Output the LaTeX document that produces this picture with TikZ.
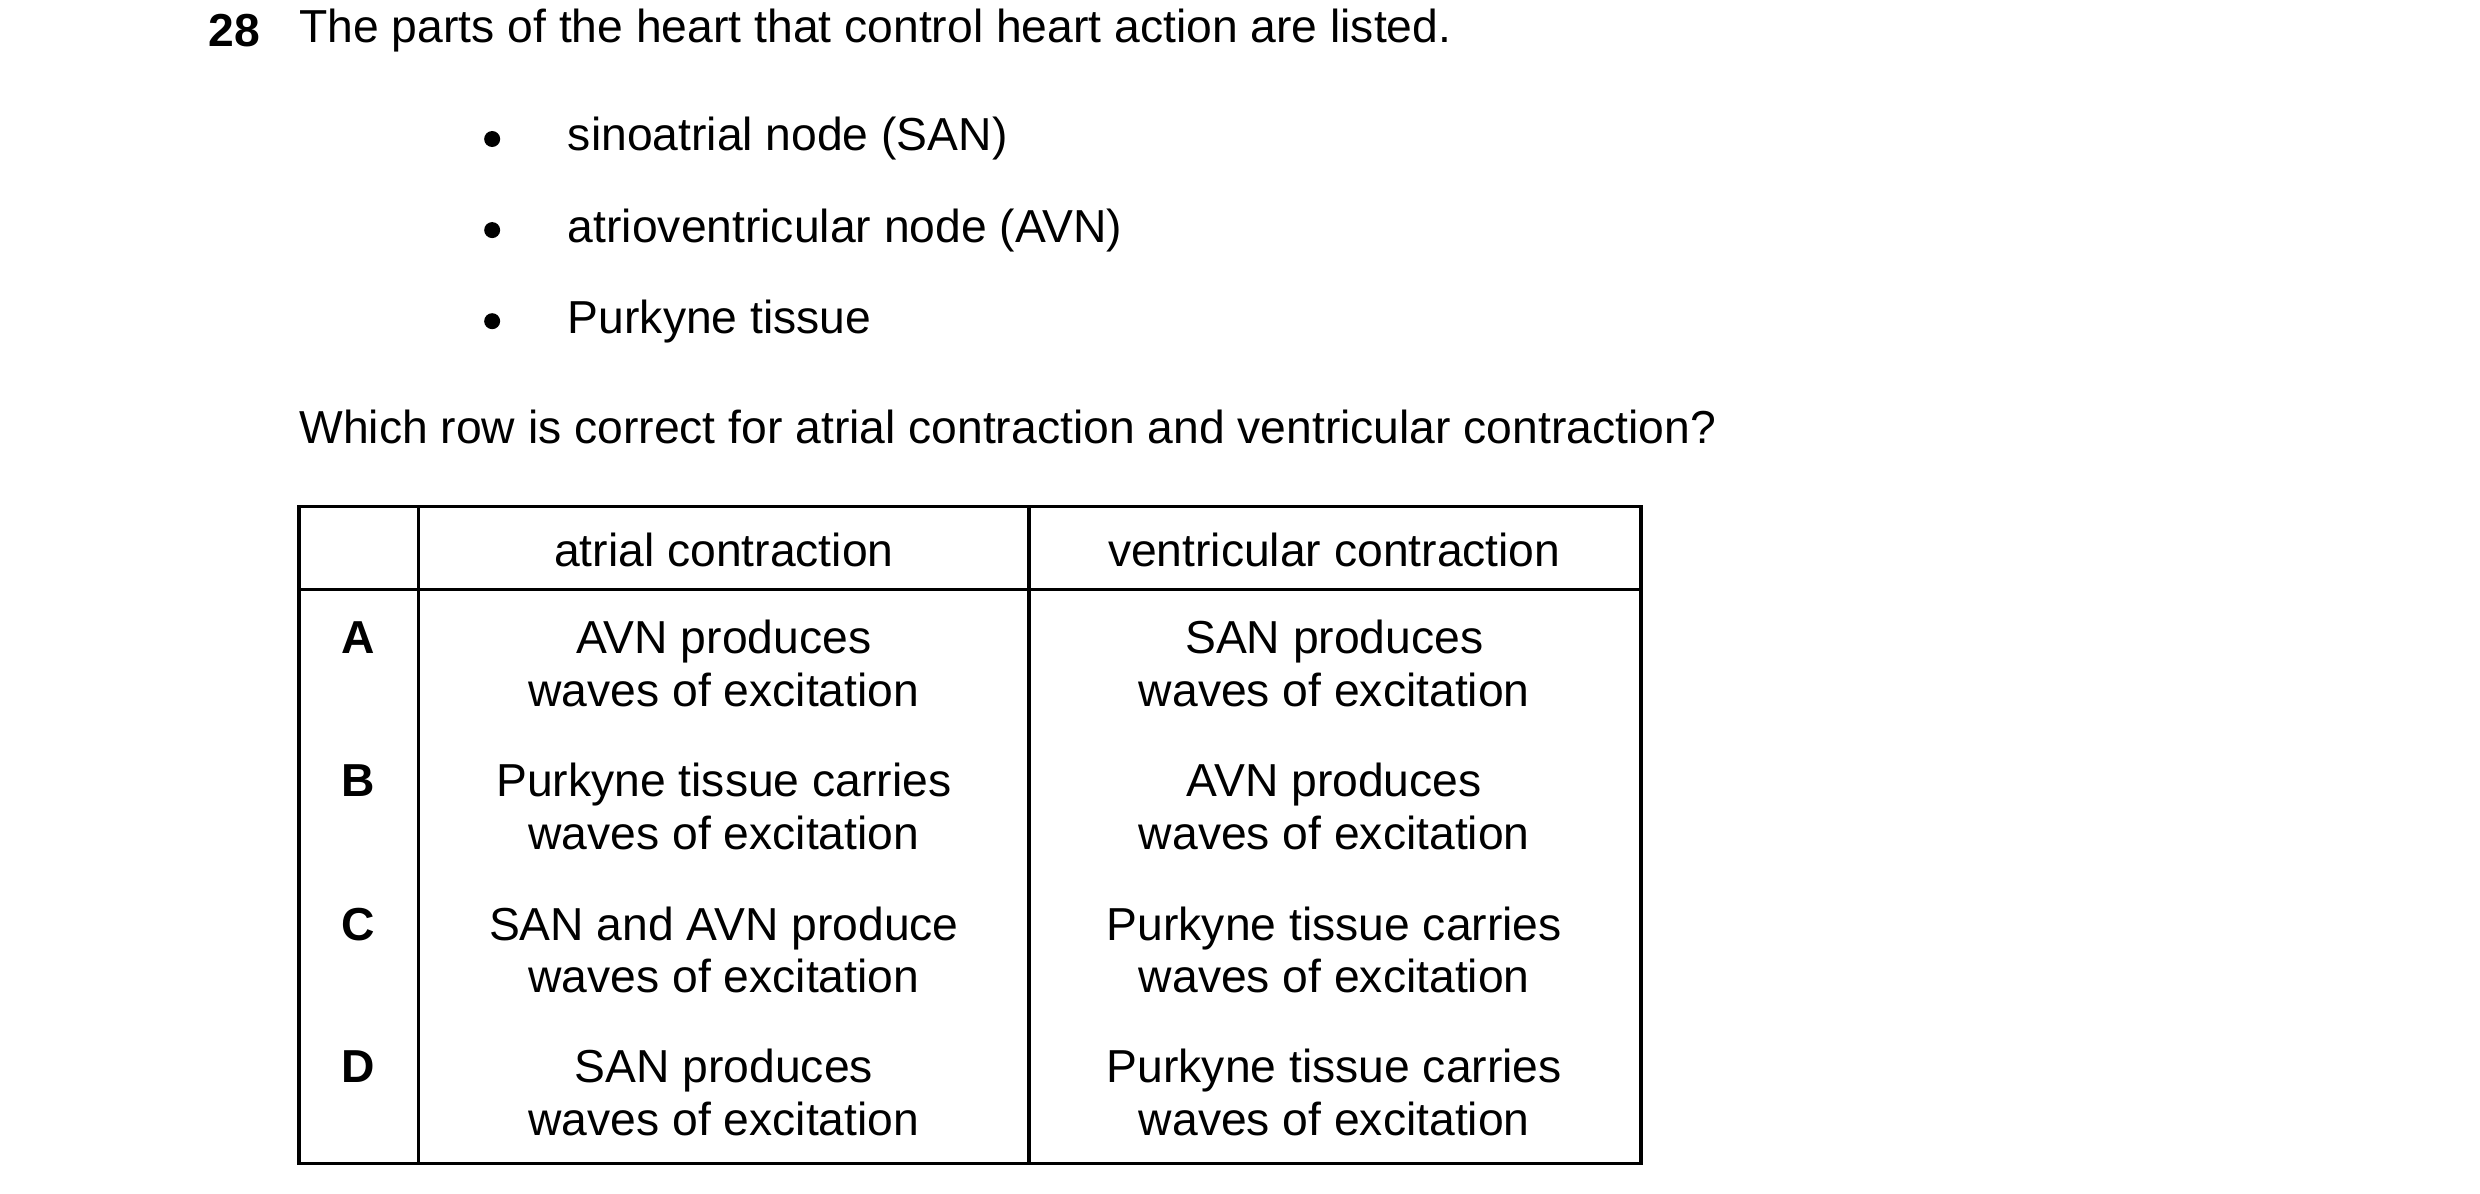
\documentclass[tikz,border=0pt]{standalone}
\usepackage{fontspec}
\setmainfont{Liberation Sans}
\begin{document}
\begin{tikzpicture}[x=0.494pt,y=-0.494pt,
  t/.style={anchor=west,inner sep=0pt,font=\fontsize{14.3pt}{16pt}\selectfont},
  c/.style={align=center,inner sep=0pt,font=\fontsize{14.3pt}{16.3pt}\selectfont},
  l/.style={inner sep=0pt,font=\fontsize{14.3pt}{16pt}\selectfont\bfseries}]
\useasboundingbox (0,0) rectangle (1552,747);
\node[l,anchor=west] (n) at (130,19) {28};
\node[t] (q) at (187,19) {The parts of the heart that control heart action are listed.};
\foreach \y/\s/\n in {87/sinoatrial node (SAN)/b1,144/atrioventricular node (AVN)/b2,201/Purkyne tissue/b3}{
  \node[t] (\n) at (355,\y) {\s};
  \fill (308,\y) circle (5);
}
\node[t] (w) at (187,267) {Which row is correct for atrial contraction and ventricular contraction?};
\draw[line width=1.1pt] (187,317) rectangle (1027,728);
\draw[line width=1.1pt] (262,317) -- (262,728) (644,317) -- (644,728) (187,369) -- (1027,369);
\node[c] (h1) at (453,344) {atrial contraction};
\node[c] (h2) at (835,344) {ventricular contraction};
\foreach \y/\L/\a/\b in {415/A/AVN produces/SAN produces,504.5/B/Purkyne tissue carries/AVN produces,594.5/C/SAN and AVN produce/Purkyne tissue carries,683.5/D/SAN produces/Purkyne tissue carries}{
  \node[l] (r\L) at (224,\y-16) {\L};
  \node[c] (a\L) at (453,\y) {\a\\waves of excitation};
  \node[c] (v\L) at (835,\y) {\b\\waves of excitation};
}
\end{tikzpicture}
\end{document}
